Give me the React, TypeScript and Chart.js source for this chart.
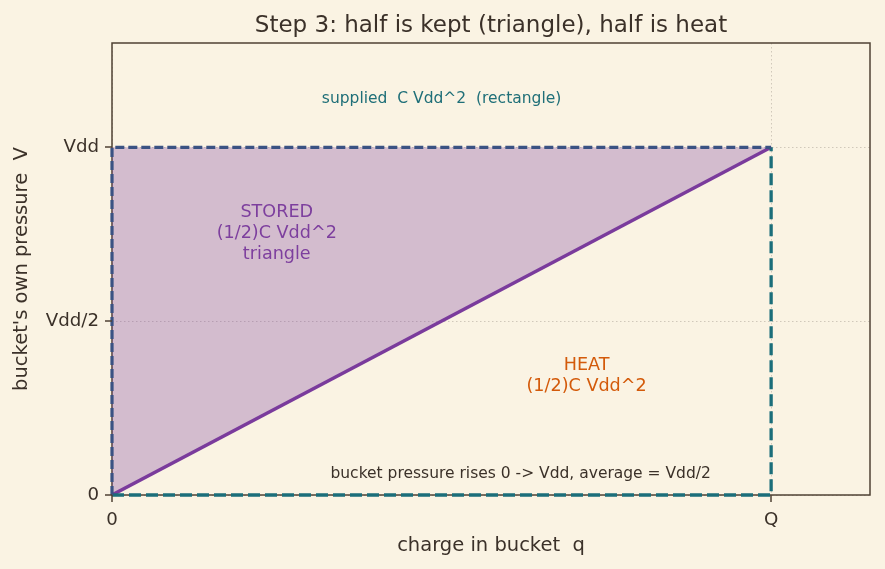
import React, { useEffect, useRef } from 'react';
import { Chart, registerables } from 'chart.js';
Chart.register(...registerables);

// ---- data ----
const xTickValues = [0, 1];
const xTickLabels = ['0', 'Q'];
const yTickValues = [0, 0.5, 1];
const yTickLabels = ['0', 'Vdd/2', 'Vdd'];

const diagonalX = [0, 1];
const diagonalY = [0, 1];
const supplyLeftTopX = [0, 0, 1];
const supplyLeftTopY = [0, 1, 1];
const supplyBottomRightX = [0, 1, 1];
const supplyBottomRightY = [0, 0, 1];

const noteTexts = [
  'supplied  C Vdd^2  (rectangle)',
  'STORED\n(1/2)C Vdd^2\ntriangle',
  'HEAT\n(1/2)C Vdd^2',
  'bucket pressure rises 0 -> Vdd, average = Vdd/2',
];
const noteX = [0.5, 0.25, 0.72, 0.62];
const noteY = [1.14, 0.753, 0.342, 0.06];

const TITLE = 'Step 3: half is kept (triangle), half is heat';
const X_LABEL = 'charge in bucket  q';
const Y_LABEL = "bucket's own pressure  V";

const BG = '#faf3e3';
const INK = '#3b3129';
const SPINE = '#4f4234';
const FONT = '"DejaVu Sans", sans-serif';
const noteColors = ['#1f6f78', '#7d3f9e', '#d35a0a', INK];
const noteSizes = [15.5, 17.6, 17.6, 15.5];

const pts = (xs: number[], ys: number[]) => xs.map((x, i) => ({ x, y: ys[i] }));

export default function App() {
  const ref = useRef<HTMLCanvasElement>(null);
  useEffect(() => {
    document.body.style.margin = '0';
    document.body.style.background = BG;
    const canvas = ref.current!;
    const decor = {
      id: 'decor',
      beforeDraw(chart: any) {
        const c = chart.ctx;
        c.save();
        c.fillStyle = BG;
        c.fillRect(0, 0, chart.width, chart.height);
        c.restore();
      },
      beforeDatasetsDraw(chart: any) {
        const c = chart.ctx;
        const a = chart.chartArea;
        c.save();
        c.strokeStyle = SPINE;
        c.lineWidth = 1.5;
        c.strokeRect(a.left, a.top, a.right - a.left, a.bottom - a.top);
        c.restore();
      },
      afterDraw(chart: any) {
        const c = chart.ctx;
        const a = chart.chartArea;
        const xs = chart.scales.x;
        const ys = chart.scales.y;
        c.save();
        c.setLineDash([]);
        c.fillStyle = SPINE;
        xTickValues.forEach((v) => {
          const px = Math.round(xs.getPixelForValue(v));
          c.fillRect(px - 0.75, a.bottom, 1.5, 7);
        });
        yTickValues.forEach((v) => {
          const py = Math.round(ys.getPixelForValue(v));
          c.fillRect(a.left - 7, py - 0.75, 7, 1.5);
        });

        c.fillStyle = INK;
        c.textAlign = 'center';
        c.textBaseline = 'alphabetic';
        c.font = `23px ${FONT}`;
        c.fillText(TITLE, (a.left + a.right) / 2, 32);
        c.textBaseline = 'middle';
        c.font = `19.5px ${FONT}`;
        c.fillText(X_LABEL, (a.left + a.right) / 2, 546);
        c.save();
        c.translate(22, (a.top + a.bottom) / 2);
        c.rotate(-Math.PI / 2);
        c.fillText(Y_LABEL, 0, 0);
        c.restore();
        noteTexts.forEach((t, i) => {
          const lines = t.split('\n');
          const size = noteSizes[i];
          const lh = size * 1.2;
          c.font = `${size}px ${FONT}`;
          c.fillStyle = noteColors[i];
          const cx = xs.getPixelForValue(noteX[i]);
          const cy = ys.getPixelForValue(noteY[i]);
          lines.forEach((ln, j) => {
            c.fillText(ln, cx, cy + (j - (lines.length - 1) / 2) * lh);
          });
        });
        c.restore();
      },
    };

    const gridOpts = {
      color: '#cbc3b5',
      lineWidth: 0.9,
      tickColor: 'rgba(0,0,0,0)',
      tickLength: 6,
      tickWidth: 1,
      tickBorderDash: [],
    };

    const chart = new Chart(canvas, {
      type: 'line',
      data: {
        datasets: [
          {
            data: pts(diagonalX, diagonalY),
            borderColor: '#7a3b9c',
            borderWidth: 3.4,
            pointRadius: 0,
            fill: { target: { value: 1 } },
            backgroundColor: 'rgba(123,63,160,0.3)',
            order: 3,
          } as any,
          {
            data: pts(supplyLeftTopX, supplyLeftTopY),
            borderColor: '#3a5283',
            borderWidth: 3.2,
            borderDash: [9, 4],
            pointRadius: 0,
            fill: false,
            clip: false,
            order: 1,
          } as any,
          {
            data: pts(supplyBottomRightX, supplyBottomRightY),
            borderColor: '#1b6e7a',
            borderWidth: 3.3,
            borderDash: [12, 5],
            pointRadius: 0,
            fill: false,
            clip: false,
            order: 2,
          } as any,
        ],
      },
      options: {
        responsive: false,
        animation: false,
        devicePixelRatio: 1,
        layout: { padding: { left: 0, right: 15, top: 43, bottom: 0 } },
        plugins: { legend: { display: false }, tooltip: { enabled: false } },
        scales: {
          x: {
            type: 'linear',
            min: 0,
            max: 1.15,
            afterBuildTicks: (s: any) => {
              s.ticks = xTickValues.map((v) => ({ value: v }));
            },
            afterFit: (s: any) => {
              s.height = 74;
            },
            ticks: {
              color: INK,
              font: { family: FONT, size: 18.2 },
              padding: 8,
              maxRotation: 0,
              callback: (v: any) => xTickLabels[xTickValues.indexOf(Number(v))] ?? '',
            },
            grid: gridOpts,
            border: { display: false, dash: [1.5, 2.5] },
          },
          y: {
            type: 'linear',
            min: 0,
            max: 1.3,
            afterBuildTicks: (s: any) => {
              s.ticks = yTickValues.map((v) => ({ value: v }));
            },
            afterFit: (s: any) => {
              s.width = 112;
            },
            ticks: {
              color: INK,
              font: { family: FONT, size: 18.2 },
              padding: 7,
              callback: (v: any) => yTickLabels[yTickValues.indexOf(Number(v))] ?? '',
            },
            grid: gridOpts,
            border: { display: false, dash: [1.5, 2.5] },
          },
        },
      },
      plugins: [decor],
    } as any);
    return () => chart.destroy();
  }, []);
  return (
    <div style={{ position: 'absolute', left: 0, top: 0, width: 885, height: 569, background: BG }}>
      <canvas ref={ref} width={885} height={569} />
    </div>
  );
}
